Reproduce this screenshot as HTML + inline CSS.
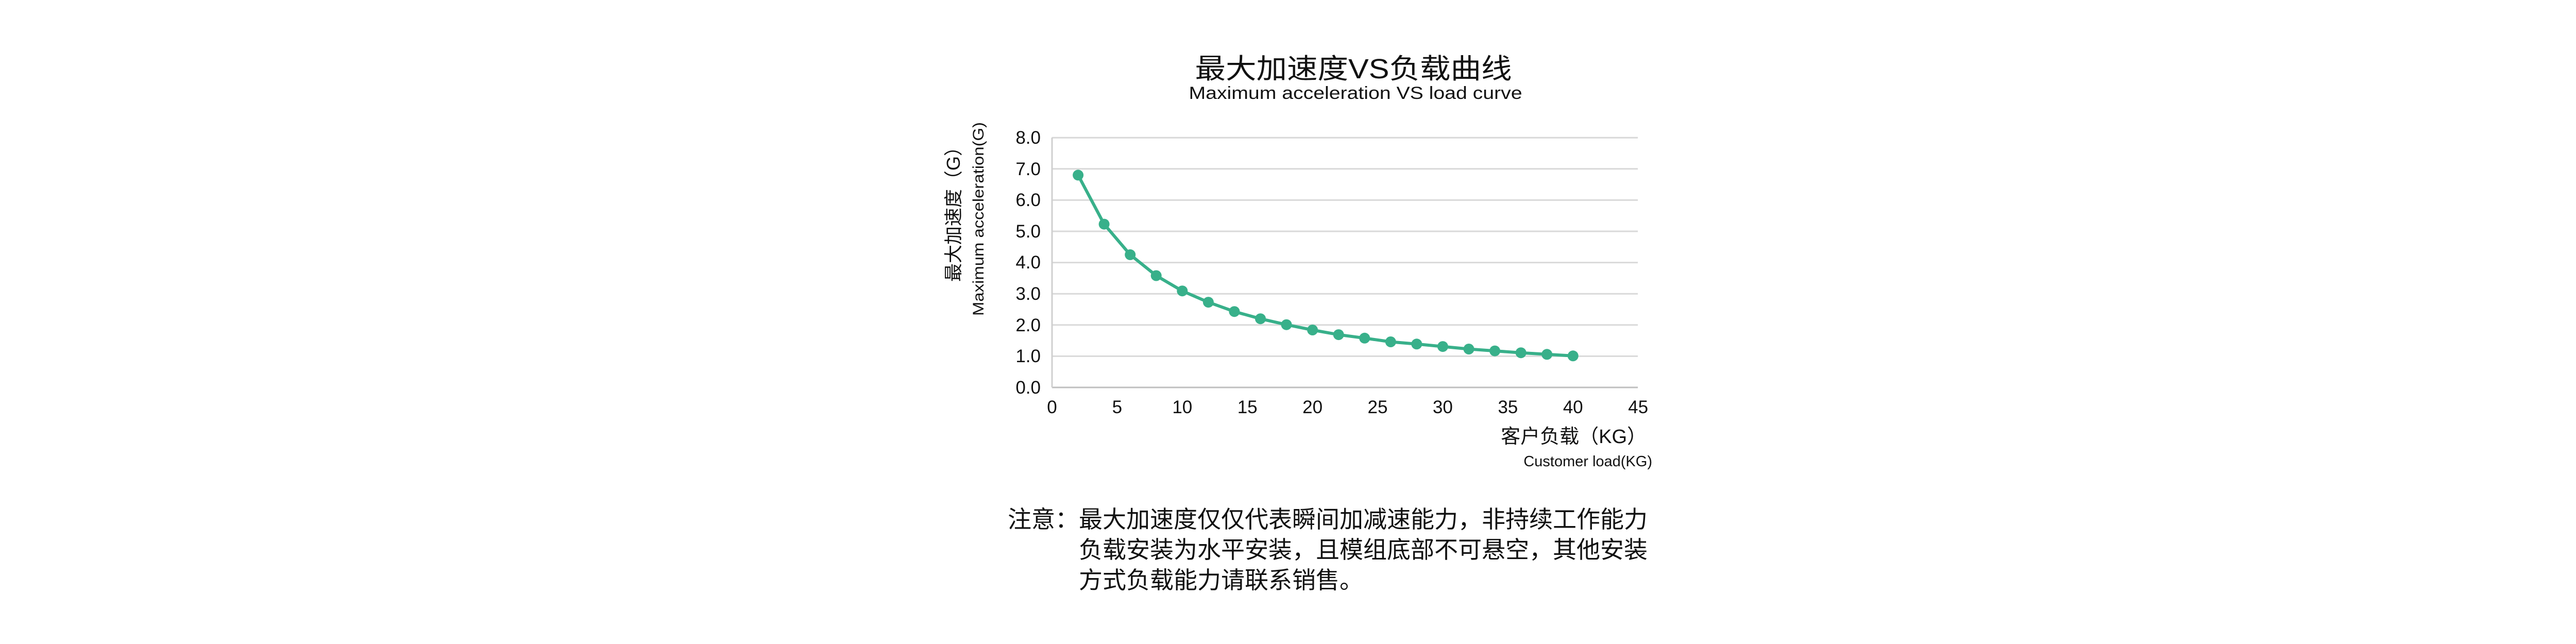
<!DOCTYPE html>
<html><head><meta charset="utf-8"><style>
html,body{margin:0;padding:0;background:#fff;}
svg{display:block;}
text{font-family:"Liberation Sans","Noto Sans CJK SC",sans-serif;fill:#111;}
</style></head><body>
<svg width="5031" height="1250" viewBox="0 0 5031 1250" xmlns="http://www.w3.org/2000/svg">
<rect width="5031" height="1250" fill="#fff"/>
<text x="2627" y="152" font-size="54" text-anchor="middle" textLength="615" lengthAdjust="spacingAndGlyphs">最大加速度VS负载曲线</text>
<text x="2631" y="192" font-size="34" text-anchor="middle" textLength="647" lengthAdjust="spacingAndGlyphs">Maximum acceleration VS load curve</text>
<g stroke="#d9d9d9" stroke-width="3">
<line x1="2042" y1="267.2" x2="3179" y2="267.2"/>
<line x1="2042" y1="327.8" x2="3179" y2="327.8"/>
<line x1="2042" y1="388.4" x2="3179" y2="388.4"/>
<line x1="2042" y1="449" x2="3179" y2="449"/>
<line x1="2042" y1="509.6" x2="3179" y2="509.6"/>
<line x1="2042" y1="570.2" x2="3179" y2="570.2"/>
<line x1="2042" y1="630.8" x2="3179" y2="630.8"/>
<line x1="2042" y1="691.4" x2="3179" y2="691.4"/>
</g>
<line x1="2042" y1="752" x2="3179" y2="752" stroke="#bfbfbf" stroke-width="3"/>
<line x1="2042" y1="267" x2="2042" y2="752" stroke="#cfcfcf" stroke-width="3"/>
<g font-size="35" text-anchor="end">
<text x="2020" y="279">8.0</text><text x="2020" y="340">7.0</text><text x="2020" y="400">6.0</text>
<text x="2020" y="461">5.0</text><text x="2020" y="521">4.0</text><text x="2020" y="582">3.0</text>
<text x="2020" y="643">2.0</text><text x="2020" y="703">1.0</text><text x="2020" y="764">0.0</text>
</g>
<g font-size="35" text-anchor="middle">
<text x="2042" y="802">0</text><text x="2168.4" y="802">5</text><text x="2294.8" y="802">10</text>
<text x="2421.2" y="802">15</text><text x="2547.6" y="802">20</text><text x="2674" y="802">25</text>
<text x="2800.4" y="802">30</text><text x="2926.8" y="802">35</text><text x="3053.2" y="802">40</text>
<text x="3179.6" y="802">45</text>
</g>
<text x="3196" y="860" font-size="38" text-anchor="end">客户负载（KG）</text>
<text x="3207" y="905" font-size="29" text-anchor="end">Customer load(KG)</text>
<text transform="translate(1863,407) rotate(-90)" font-size="36" text-anchor="middle">最大加速度（G）</text>
<text transform="translate(1909,425) rotate(-90)" font-size="30" text-anchor="middle" textLength="376" lengthAdjust="spacingAndGlyphs">Maximum acceleration(G)</text>
<polyline fill="none" stroke="#38b08a" stroke-width="6" stroke-linejoin="round" points="2092.6,339.9 2143.1,435.1 2193.7,494.4 2244.2,535 2294.8,564.7 2345.4,586.6 2395.9,604.7 2446.5,618.7 2497,630.2 2547.6,640.5 2598.2,649.6 2648.7,656.3 2699.3,663.5 2749.8,667.8 2800.4,672.6 2851,677.5 2901.5,681.1 2952.1,684.7 3002.6,687.8 3053.2,690.8"/>
<g fill="#38b08a">
<circle cx="2092.6" cy="339.9" r="10.5"/><circle cx="2143.1" cy="435.1" r="10.5"/><circle cx="2193.7" cy="494.4" r="10.5"/>
<circle cx="2244.2" cy="535" r="10.5"/><circle cx="2294.8" cy="564.7" r="10.5"/><circle cx="2345.4" cy="586.6" r="10.5"/>
<circle cx="2395.9" cy="604.7" r="10.5"/><circle cx="2446.5" cy="618.7" r="10.5"/><circle cx="2497" cy="630.2" r="10.5"/>
<circle cx="2547.6" cy="640.5" r="10.5"/><circle cx="2598.2" cy="649.6" r="10.5"/><circle cx="2648.7" cy="656.3" r="10.5"/>
<circle cx="2699.3" cy="663.5" r="10.5"/><circle cx="2749.8" cy="667.8" r="10.5"/><circle cx="2800.4" cy="672.6" r="10.5"/>
<circle cx="2851" cy="677.5" r="10.5"/><circle cx="2901.5" cy="681.1" r="10.5"/><circle cx="2952.1" cy="684.7" r="10.5"/>
<circle cx="3002.6" cy="687.8" r="10.5"/><circle cx="3053.2" cy="690.8" r="10.5"/>
</g>
<g font-size="46">
<text x="1956" y="1024">注意：</text>
<text x="2094" y="1024">最大加速度仅仅代表瞬间加减速能力，非持续工作能力</text>
<text x="2094" y="1083">负载安装为水平安装，且模组底部不可悬空，其他安装</text>
<text x="2094" y="1142">方式负载能力请联系销售。</text>
</g>
</svg>
</body></html>
